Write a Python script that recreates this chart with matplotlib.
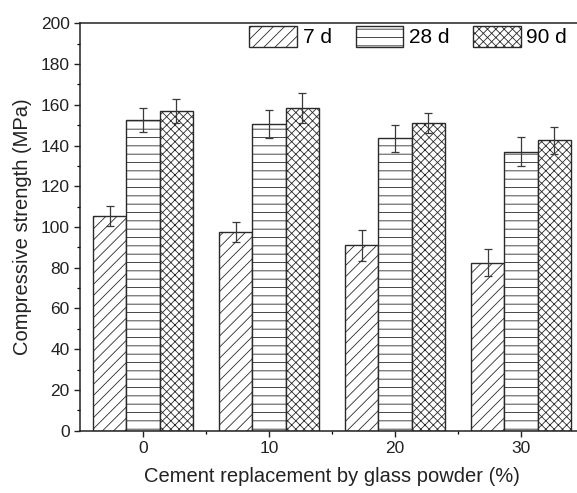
import matplotlib.pyplot as plt
import numpy as np

plt.rcParams['font.family'] = ['Liberation Sans', 'DejaVu Sans']
plt.rcParams['hatch.linewidth'] = 0.6
plt.rcParams['hatch.color'] = '#333333'

# Compressive strength by glass powder replacement level
replacement = ['0', '10', '20', '30']
ages = ['7 d', '28 d', '90 d']
strength_7d = [105.5, 97.5, 91.0, 82.5]
strength_28d = [152.5, 150.5, 143.5, 137.0]
strength_90d = [157.0, 158.5, 151.0, 142.5]
err_7d = [5.0, 5.0, 7.5, 6.5]
err_28d = [5.7, 7.0, 6.5, 7.0]
err_90d = [5.8, 7.5, 5.0, 6.5]

series = [strength_7d, strength_28d, strength_90d]
errors = [err_7d, err_28d, err_90d]
hatches = ['///', '--', 'xxxx']

fig = plt.figure(figsize=(5.77, 4.93), dpi=100)
ax = fig.add_axes([80 / 577, 1 - 430.7 / 493, 504 / 577, 407.4 / 493])

x = np.arange(len(replacement))
width = 0.265
for i, (vals, errs, hatch, label) in enumerate(zip(series, errors, hatches, ages)):
    ax.bar(x + (i - 1) * width, vals, width, color='white', edgecolor='#2a2a2a',
           linewidth=1.0, hatch=hatch, label=label, zorder=2)
    ax.errorbar(x + (i - 1) * width, vals, yerr=errs, fmt='none', ecolor='#3a3a3a',
                elinewidth=0.9, capsize=3, capthick=0.9, zorder=3)

ax.set_xlim(-0.5, 3.5)
ax.set_ylim(0, 200)
ax.set_xticks(x)
ax.set_xticklabels(replacement)
ax.set_xticks([0.5, 1.5, 2.5], minor=True)
ax.set_yticks(np.arange(0, 201, 20))
ax.set_yticks(np.arange(0, 201, 10), minor=True)
ax.tick_params(axis='both', which='major', direction='out', length=4.5, width=1.0,
               labelsize=12.5, colors='#222222', pad=3)
ax.tick_params(axis='both', which='minor', direction='out', length=2.5, width=0.9)
for spine in ax.spines.values():
    spine.set_linewidth(1.1)
    spine.set_color('#222222')

ax.set_xlabel('Cement replacement by glass powder (%)', fontsize=14.5, labelpad=8, color='#222222')
ax.set_ylabel('Compressive strength (MPa)', fontsize=14.5, labelpad=6, color='#222222')

ax.legend(ncol=3, loc='upper right', bbox_to_anchor=(567 / 577, 1 - 26 / 493),
          bbox_transform=fig.transFigure, frameon=False, fontsize=15,
          handlelength=2.3, handleheight=1.15, handletextpad=0.25,
          columnspacing=1.15, borderpad=0, borderaxespad=0)

fig.savefig('out.png', dpi=100)
